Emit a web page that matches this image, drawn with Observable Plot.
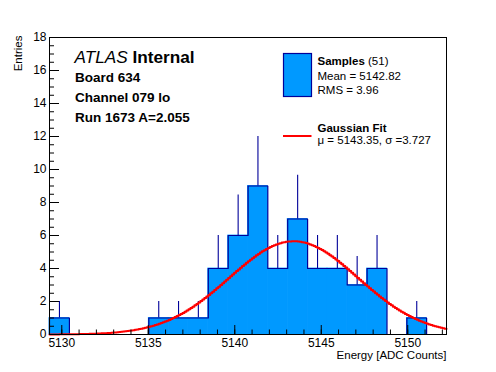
<!DOCTYPE html>
<html>
<head>
<meta charset="utf-8">
<script src="https://cdn.jsdelivr.net/npm/d3@7"></script>
<script src="https://cdn.jsdelivr.net/npm/@observablehq/plot@0.6"></script>
<style>
  html, body { margin: 0; padding: 0; background: #fff; }
  #chart svg { display: block; font-family: "Liberation Sans", Arial, sans-serif; }
</style>
</head>
<body>
<div id="chart"></div>
<script>
// ---- data ----
const xRange = [5129.29, 5152.24];           // axis limits
const binLow = [5129.29, 5130.44, 5131.59, 5132.73, 5133.88, 5135.03, 5136.18, 5137.32, 5138.47, 5139.62,
                5140.77, 5141.91, 5143.06, 5144.21, 5145.36, 5146.50, 5147.65, 5148.80, 5149.95, 5151.09];
const binHigh = [5130.44, 5131.59, 5132.73, 5133.88, 5135.03, 5136.18, 5137.32, 5138.47, 5139.62, 5140.77,
                 5141.91, 5143.06, 5144.21, 5145.36, 5146.50, 5147.65, 5148.80, 5149.95, 5151.09, 5152.24];
const counts = [1, 0, 0, 0, 0, 1, 1, 1, 4, 6, 9, 4, 7, 4, 4, 3, 4, 0, 1, 0];
const errors = [1, 0, 0, 0, 0, 1, 1, 1, 2, 2.45, 3, 2, 2.65, 2, 2, 1.73, 2, 0, 1, 0];
const fitMu = 5143.35;
const fitSigma = 3.727;
const fitAmp = 5.65;
const xMajor = [5130, 5135, 5140, 5145, 5150];
const xMinor = [5130,5131,5132,5133,5134,5135,5136,5137,5138,5139,5140,5141,5142,5143,5144,5145,5146,5147,5148,5149,5150,5151,5152];
const yMajor = [0, 2, 4, 6, 8, 10, 12, 14, 16, 18];
const yMinor = [0,0.5,1,1.5,2,2.5,3,3.5,4,4.5,5,5.5,6,6.5,7,7.5,8,8.5,9,9.5,10,10.5,11,11.5,12,12.5,13,13.5,14,14.5,15,15.5,16,16.5,17,17.5,18];
const infoLines = ["Board 634", "Channel 079 lo", "Run 1673 A=2.055"];
const legendSamples = { name: "Samples", n: "(51)", lines: ["Mean = 5142.82", "RMS = 3.96"] };
const legendFit = { name: "Gaussian Fit", line: "\u03bc = 5143.35, \u03c3 =3.727" };

const FILL = "#0099ff", EDGE = "#000099", RED = "#ff0000";

// ---- tables ----
const bins = binLow.map((lo, i) => ({ lo, hi: binHigh[i], c: counts[i], e: errors[i], mid: (lo + binHigh[i]) / 2 }));
const outline = [{ x: binLow[0], y: 0 }, ...bins.map(b => ({ x: b.lo, y: b.c })), { x: binHigh[binHigh.length - 1], y: 0 }];
const nFit = 200;
const fitPts = d3.range(nFit + 1).map(i => {
  const x = xRange[0] + (xRange[1] - xRange[0]) * i / nFit;
  return { x, y: fitAmp * Math.exp(-0.5 * ((x - fitMu) / fitSigma) ** 2) };
});

const chart = Plot.plot({
  width: 496,
  height: 372,
  marginLeft: 49,
  marginRight: 50,
  marginTop: 37,
  marginBottom: 38,
  style: { fontFamily: "Liberation Sans, Arial, sans-serif", fontSize: "12px", background: "#fff" },
  x: { domain: xRange },
  y: { domain: [0, 18] },
  marks: [
    Plot.rect(bins.filter(b => b.c > 0), { x1: "lo", x2: "hi", y1: 0, y2: "c", fill: FILL, stroke: FILL, strokeWidth: 0.8, inset: 0 }),
    Plot.line(outline, { x: "x", y: "y", curve: "step-after", stroke: EDGE, strokeWidth: 1.2 }),
    Plot.ruleX(bins.filter(b => b.c > 0), { x: "mid", y1: "c", y2: d => d.c + d.e, stroke: EDGE, strokeWidth: 1.1 }),
    Plot.line(fitPts, { x: "x", y: "y", stroke: RED, strokeWidth: 2, curve: "step-after" }),
    Plot.frame({ stroke: "#000", strokeWidth: 1 }),
    Plot.axisX(xMinor, { tickSize: -4.5, text: null, label: null, stroke: "#000" }),
    Plot.axisX(xMajor, { tickSize: -9, text: null, label: null, stroke: "#000" }),
    Plot.axisX(xMajor, { tickSize: 0, tickPadding: 4, tickFormat: d => String(d), label: null, fontSize: 12, fill: "#000" }),
    Plot.axisY(yMinor, { tickSize: -5, text: null, label: null, stroke: "#000" }),
    Plot.axisY(yMajor, { tickSize: -10, text: null, label: null, stroke: "#000" }),
    Plot.axisY(yMajor, { tickSize: 0, tickPadding: 3, tickFormat: d => String(d), label: null, fontSize: 12, fill: "#000" }),
    Plot.text(["Energy [ADC Counts]"], { frameAnchor: "bottom-right", dy: 20.5, textAnchor: "end", lineAnchor: "middle", fontSize: 11.5, fill: "#000" }),
    Plot.text(["Entries"], { frameAnchor: "top-left", dx: -31, dy: -2, rotate: -90, textAnchor: "end", lineAnchor: "middle", fontSize: 11.5, fill: "#000" })
  ]
});

document.getElementById("chart").appendChild(chart);

// ---- annotations (text block and legend) ----
const svg = d3.select(chart);
const g = svg.append("g")
  .attr("font-family", "Liberation Sans, Arial, sans-serif")
  .attr("fill", "#000")
  .attr("text-anchor", "start");

const atlas = g.append("text").attr("x", 74.5).attr("y", 63.3).attr("font-size", 17.2);
atlas.append("tspan").attr("font-style", "italic").text("ATLAS");
atlas.append("tspan").attr("font-weight", "bold").text(" Internal");

infoLines.forEach((t, i) => {
  g.append("text").attr("x", 75).attr("y", 81.7 + i * 20).attr("font-size", 13.5).attr("font-weight", "bold").text(t);
});

// legend: samples
g.append("rect").attr("x", 283.5).attr("y", 53.5).attr("width", 28).attr("height", 43)
  .attr("fill", FILL).attr("stroke", EDGE).attr("stroke-width", 1.2);
const s1 = g.append("text").attr("x", 317.5).attr("y", 65).attr("font-size", 11.5);
s1.append("tspan").attr("font-weight", "bold").text(legendSamples.name);
s1.append("tspan").text(" " + legendSamples.n);
legendSamples.lines.forEach((t, i) => {
  g.append("text").attr("x", 317.5).attr("y", 80 + i * 14).attr("font-size", 11.5).text(t);
});

// legend: fit
g.append("line").attr("x1", 283).attr("x2", 311.5).attr("y1", 136).attr("y2", 136)
  .attr("stroke", RED).attr("stroke-width", 2);
g.append("text").attr("x", 317.5).attr("y", 132.3).attr("font-size", 11.5).attr("font-weight", "bold").text(legendFit.name);
g.append("text").attr("x", 317.5).attr("y", 144).attr("font-size", 11.5).text(legendFit.line);
</script>
</body>
</html>
